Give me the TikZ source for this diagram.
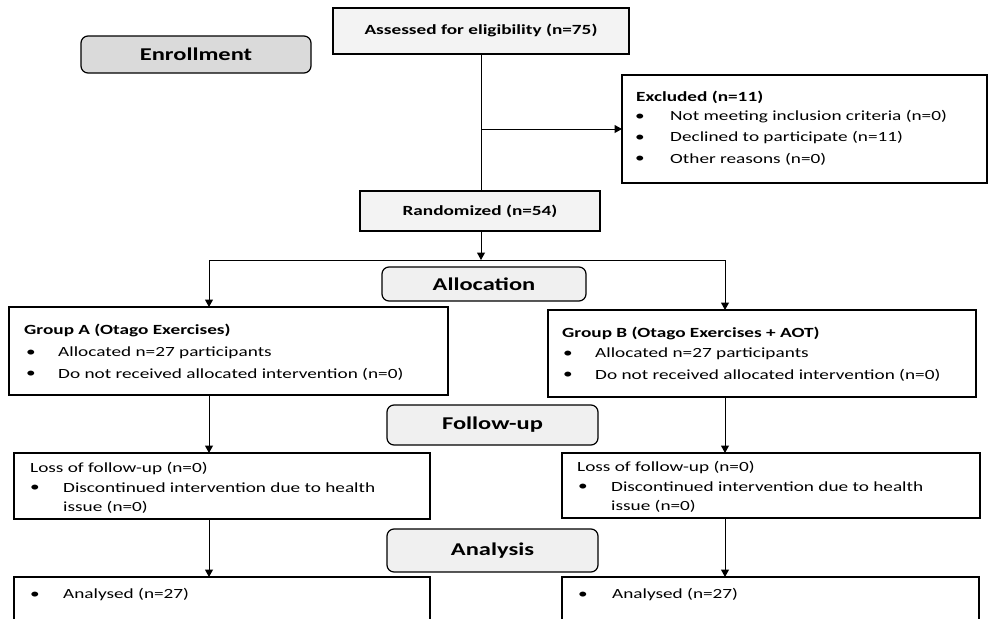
\documentclass[tikz,border=0pt]{standalone}
\usepackage{fontspec}
\setmainfont[FakeStretch=1.375]{Carlito}
\newfontfamily\hdfam[FakeStretch=1.36]{Carlito}
\usetikzlibrary{arrows.meta}
\definecolor{phasegray}{HTML}{F0F0F0}
\definecolor{enrollgray}{HTML}{DADADA}
\definecolor{boxgray}{HTML}{F3F3F3}
\tikzset{
  box/.style={draw, line width=1.2pt, inner sep=0pt, outer sep=0pt},
  greybox/.style={box, fill=boxgray},
  phase/.style={draw, line width=1.2pt, rounded corners=7pt, inner sep=0pt, outer sep=0pt, fill=phasegray, font=\hdfam\bfseries\fontsize{18}{20}\selectfont},
  txt/.style={anchor=west, inner sep=0pt, font=\fontsize{14}{16}\selectfont},
  btxt/.style={txt, font=\bfseries\fontsize{14}{16}\selectfont},
  ctxt/.style={inner sep=0pt, font=\bfseries\fontsize{14}{16}\selectfont},
  arr/.style={-{Triangle[length=7.5pt,width=8pt]}, line width=1pt},
  conn/.style={line width=1pt}
}
\begin{document}
\begin{tikzpicture}[x=1pt,y=-1pt]
\useasboundingbox (0,0) rectangle (989,619);
\clip (0,0) rectangle (989,619);
% boxes
\node[phase, fill=enrollgray, minimum width=230pt, minimum height=37pt] (enroll) at (196,54.5) {Enrollment};
\node[greybox, minimum width=296pt, minimum height=46pt] (assess) at (481,31) {};
\node[ctxt] (assesst) at (481,30) {Assessed for eligibility (n=75)};
\node[box, minimum width=365pt, minimum height=108pt] (excl) at (804.5,129) {};
\node[greybox, minimum width=240pt, minimum height=40pt] (rand) at (480,211) {};
\node[ctxt] (randt) at (480,211) {Randomized (n=54)};
\node[phase, minimum width=204pt, minimum height=34pt] (alloc) at (484,284) {Allocation};
\node[box, minimum width=439pt, minimum height=88pt] (grpA) at (228.5,351) {};
\node[box, minimum width=428pt, minimum height=87pt] (grpB) at (762,353.5) {};
\node[phase, minimum width=211pt, minimum height=40pt] (follow) at (492.5,425) {Follow-up};
\node[box, minimum width=416pt, minimum height=66pt] (lossA) at (222,486) {};
\node[box, minimum width=418pt, minimum height=65pt] (lossB) at (771,485.5) {};
\node[phase, minimum width=211pt, minimum height=43pt] (anal) at (492.5,550.5) {Analysis};
\node[box, minimum width=416pt, minimum height=60pt] (anA) at (222,607) {};
\node[box, minimum width=417pt, minimum height=60pt] (anB) at (770.5,607) {};
% excluded text
\node[btxt] (ex0) at (636,97) {Excluded (n=11)};
\node[txt] (exb1) at (635,117) {\textbullet};
\node[txt] (ex1) at (670,117) {Not meeting inclusion criteria (n=0)};
\node[txt] (exb2) at (635,138) {\textbullet};
\node[txt] (ex2) at (670,138) {Declined to participate (n=11)};
\node[txt] (exb3) at (635,159) {\textbullet};
\node[txt] (ex3) at (670,159) {Other reasons (n=0)};
% group A
\node[btxt] (ga0) at (24,330) {Group A (Otago Exercises)};
\node[txt] (gab1) at (26,353) {\textbullet};
\node[txt] (ga1) at (58,353) {Allocated n=27 participants};
\node[txt] (gab2) at (26,374) {\textbullet};
\node[txt] (ga2) at (58,374) {Do not received allocated intervention (n=0)};
% group B
\node[btxt] (gb0) at (562,333) {Group B (Otago Exercises + AOT)};
\node[txt] (gbb1) at (563,354) {\textbullet};
\node[txt] (gb1) at (595,354) {Allocated n=27 participants};
\node[txt] (gbb2) at (563,375) {\textbullet};
\node[txt] (gb2) at (595,375) {Do not received allocated intervention (n=0)};
% loss A
\node[txt] (la0) at (30,469) {Loss of follow-up (n=0)};
\node[txt] (lab1) at (30,488) {\textbullet};
\node[txt] (la1) at (63,488) {Discontinued intervention due to health};
\node[txt] (la2) at (63,507) {issue (n=0)};
% loss B
\node[txt] (lb0) at (577,468) {Loss of follow-up (n=0)};
\node[txt] (lbb1) at (578,487) {\textbullet};
\node[txt] (lb1) at (611,487) {Discontinued intervention due to health};
\node[txt] (lb2) at (611,506) {issue (n=0)};
% analysed
\node[txt] (aab) at (30,595) {\textbullet};
\node[txt] (aa) at (63,595) {Analysed (n=27)};
\node[txt] (abb) at (578,595) {\textbullet};
\node[txt] (ab) at (612,595) {Analysed (n=27)};
% connectors
\coordinate (split) at (481,260);
\coordinate (lcol) at (209,260);
\coordinate (rcol) at (725,260);
\draw[conn] (assess.south) -- (assess.south |- rand.north);
\draw[arr] (assess.south |- excl.west) -- (excl.west);
\draw[arr] (assess.south |- rand.south) -- (split);
\draw[conn] (lcol) -- (rcol);
\draw[arr] (lcol) -- (lcol |- grpA.north);
\draw[arr] (rcol) -- (rcol |- grpB.north);
\draw[arr] (lcol |- grpA.south) -- (lcol |- lossA.north);
\draw[arr] (rcol |- grpB.south) -- (rcol |- lossB.north);
\draw[arr] (lcol |- lossA.south) -- (lcol |- anA.north);
\draw[arr] (rcol |- lossB.south) -- (rcol |- anB.north);
\end{tikzpicture}
\end{document}
